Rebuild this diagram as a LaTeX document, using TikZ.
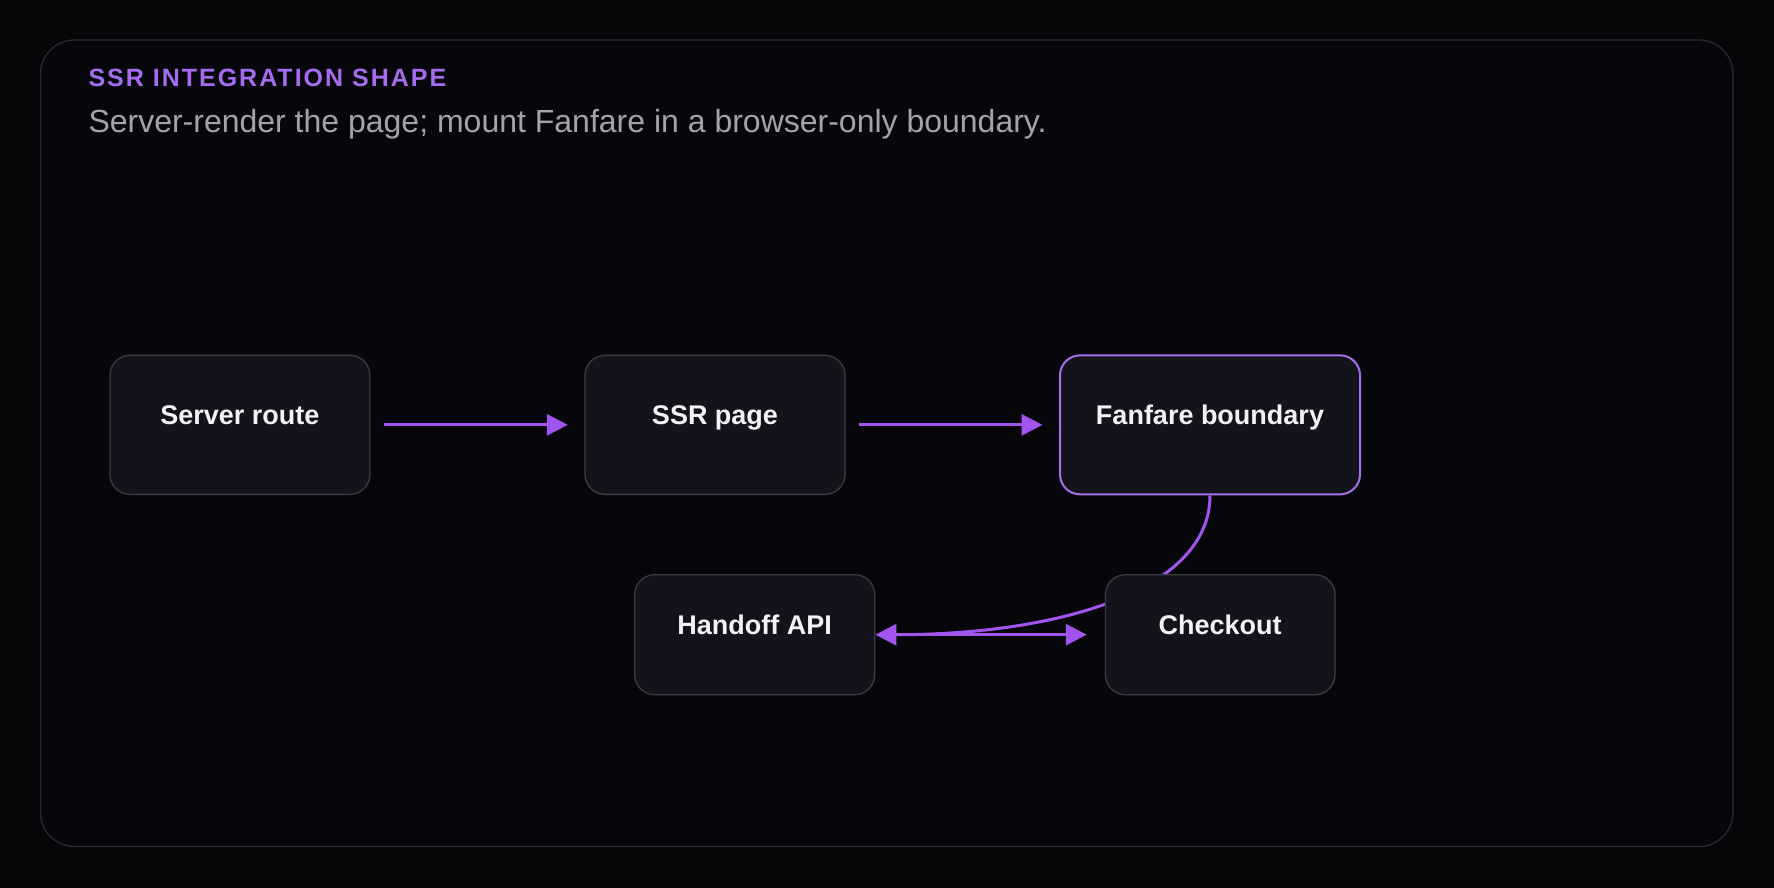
\documentclass[tikz,border=0pt]{standalone}
\usepackage{fontspec}
\setmainfont{Liberation Sans}
\newfontfamily\titlefont[LetterSpace=8]{Liberation Sans}
\usetikzlibrary{arrows.meta}
\definecolor{bgc}{HTML}{060609}
\definecolor{framebg}{HTML}{07070B}
\definecolor{framedraw}{HTML}{2A2A32}
\definecolor{nodefill}{HTML}{13131B}
\definecolor{nodedraw}{HTML}{3B3B45}
\definecolor{accent}{HTML}{A670EA}
\definecolor{flowc}{HTML}{A155EE}
\definecolor{titlec}{HTML}{A66CF0}
\definecolor{subc}{HTML}{A3A3AD}
\definecolor{textc}{HTML}{F2F2F8}
\tikzset{
  box/.style={draw=nodedraw, line width=1.3pt, fill=nodefill, rounded corners=20pt,
    text=textc, font=\fontsize{27}{32}\selectfont\bfseries, text height=0pt, text depth=0pt,
    inner sep=0pt, align=center},
  hotbox/.style={box, draw=accent, line width=2pt},
  flow/.style={draw=flowc, line width=3pt, -{Triangle[length=21pt, width=21pt]},
    shorten <=13.5pt},
}
\begin{document}
\begin{tikzpicture}[x=1pt, y=-1pt]
\useasboundingbox (0,0) rectangle (1774,887);
\fill[bgc] (-2,-2) rectangle (1776,889);
\draw[framedraw, fill=framebg, line width=1.3pt, rounded corners=34pt] (40.5,40) rectangle (1733,846.5);
\node[anchor=base west, inner sep=0pt, text=titlec, font=\titlefont\fontsize{25}{30}\selectfont\bfseries] (title) at (88.3,86.7) {SSR INTEGRATION SHAPE};
\node[anchor=base west, inner sep=0pt, text=subc, font=\fontsize{32}{38}\selectfont] (sub) at (88.3,132) {Server-render the page; mount Fanfare in a browser-only boundary.};
\node[box, minimum width=260, minimum height=139] (sr) at (239.9,424.85) {Server route};
\node[box, minimum width=260, minimum height=139] (ssr) at (715,424.85) {SSR page};
\node[hotbox, minimum width=300, minimum height=139] (fan) at (1210,424.85) {Fanfare boundary};
\node[box, minimum width=240, minimum height=120] (hand) at (754.7,634.7) {Handoff API};
\draw[flow, shorten <=0pt] (fan.south) .. controls +(0,95.6) and +(183,0) .. (hand.east);
\node[box, minimum width=229.6, minimum height=120] (chk) at (1220.2,634.7) {Checkout};
\draw[flow, shorten >=16.5pt] (sr.east) -- (ssr.west);
\draw[flow, shorten >=16.5pt] (ssr.east) -- (fan.west);
\draw[flow, shorten >=18pt] (hand.east) -- (chk.west);
\end{tikzpicture}
\end{document}
